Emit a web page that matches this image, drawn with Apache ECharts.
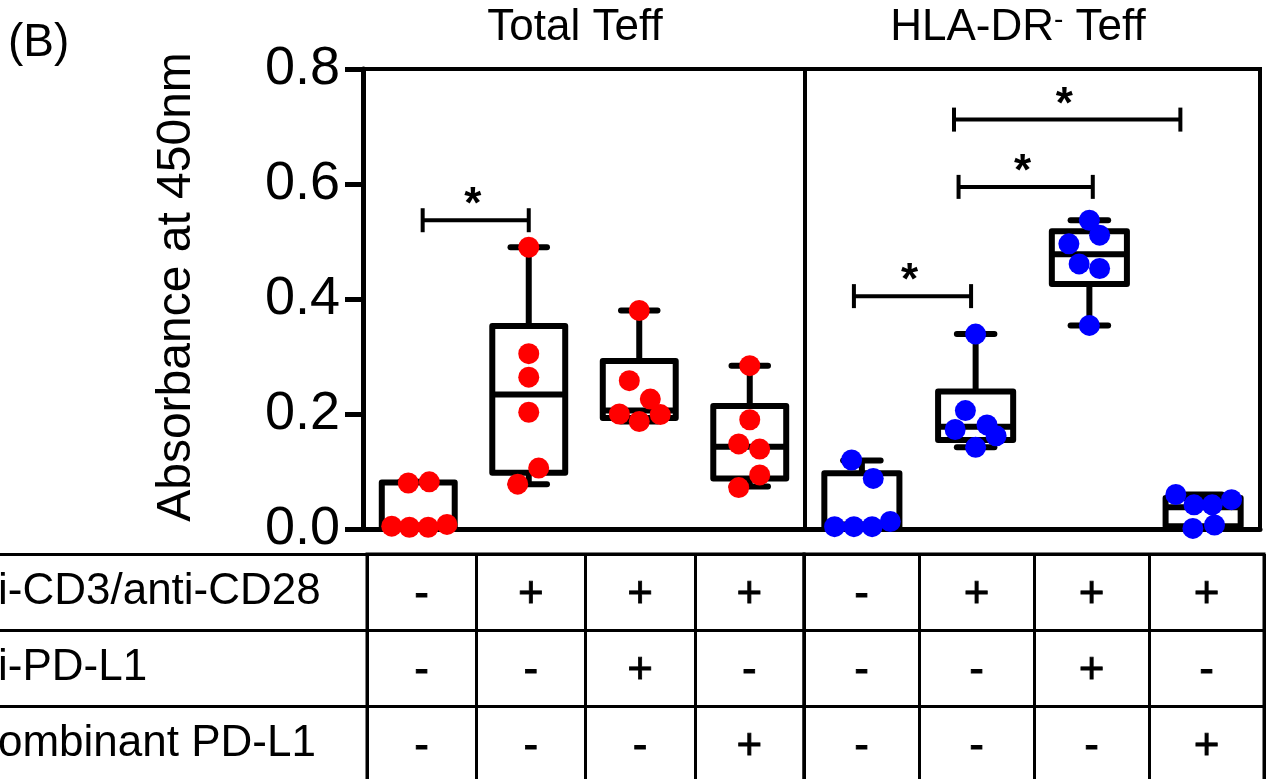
<!DOCTYPE html>
<html><head><meta charset="utf-8">
<script src="https://cdn.jsdelivr.net/npm/echarts@6/dist/echarts.min.js"></script>
<style>html,body{margin:0;padding:0;background:#fff}#c{width:1272px;height:779px}</style>
</head><body><div id="c"></div>
<script>
// ---------- data ----------
const panelTitles = ['Total Teff', 'HLA-DR{sup|-} Teff'];
const groupsTotal = ['Total: unstim', 'Total: CD3/CD28', 'Total: CD3/CD28 + anti-PD-L1', 'Total: CD3/CD28 + rPD-L1'];
const groupsHLA = ['HLA-DR-: unstim', 'HLA-DR-: CD3/CD28', 'HLA-DR-: CD3/CD28 + anti-PD-L1', 'HLA-DR-: CD3/CD28 + rPD-L1'];
const yTicks = { min: 0, max: 0.8, interval: 0.2 };
const yName = 'Absorbance at 450nm';
const panelLabel = '(B)';
// box stats: [min, Q1, median, Q3, max]
const boxTotal = [
  [0.003, 0.004, 0.006, 0.081, 0.082],
  [0.078, 0.098, 0.234, 0.353, 0.490],
  [0.187, 0.193, 0.206, 0.292, 0.380],
  [0.074, 0.088, 0.143, 0.214, 0.284]
];
const boxHLA = [
  [0.004, 0.004, 0.008, 0.097, 0.119],
  [0.142, 0.155, 0.178, 0.239, 0.339],
  [0.354, 0.426, 0.478, 0.518, 0.537],
  [0.001, 0.005, 0.038, 0.054, 0.060]
];
// individual points and their horizontal jitter (fraction of a category)
const ptsTotal = [
  [0.080, 0.082, 0.005, 0.003, 0.003, 0.008],
  [0.490, 0.305, 0.264, 0.203, 0.106, 0.078],
  [0.380, 0.258, 0.226, 0.200, 0.187, 0.199],
  [0.284, 0.190, 0.148, 0.139, 0.094, 0.072]
];
const jitTotal = [
  [-0.09, 0.10, -0.24, -0.08, 0.09, 0.26],
  [0, 0, 0, 0, 0.09, -0.10],
  [0, -0.09, 0.10, -0.18, 0, 0.19],
  [0, 0, -0.10, 0.09, 0.09, -0.10]
];
const ptsHLA = [
  [0.120, 0.088, 0.004, 0.004, 0.004, 0.013],
  [0.339, 0.206, 0.173, 0.181, 0.162, 0.142],
  [0.537, 0.511, 0.496, 0.461, 0.453, 0.354],
  [0.060, 0.042, 0.042, 0.051, 0.001, 0.007]
];
const jitHLA = [
  [-0.09, 0.10, -0.24, -0.07, 0.09, 0.25],
  [0, -0.09, -0.18, 0.10, 0.18, 0],
  [0, 0.09, -0.18, -0.09, 0.09, 0],
  [-0.24, -0.08, 0.08, 0.25, -0.09, 0.10]
];
// significance brackets: [from, to, height]
const sigTotal = [[0.04, 1.0, 0.537]];
const sigHLA = [[-0.07, 0.96, 0.405], [0.85, 2.03, 0.595], [0.81, 2.80, 0.712]];
const sigMark = '*';
// condition table
const tableRows = ['i-CD3/anti-CD28', 'i-PD-L1', 'ombinant PD-L1'];
const rowCD3 = ['-', '+', '+', '+', '-', '+', '+', '+'];
const rowAntiPDL1 = ['-', '-', '+', '-', '-', '-', '+', '-'];
const rowRecPDL1 = ['-', '-', '-', '+', '-', '-', '-', '+'];
const tableData = [rowCD3, rowAntiPDL1, rowRecPDL1];

// ---------- chart ----------
const FONT = '"Liberation Sans", Arial, Helvetica, sans-serif';
const chart = echarts.init(document.getElementById('c'));

function boxSeries(stats, xi, yi) {
  return {
    type: 'custom', xAxisIndex: xi, yAxisIndex: yi, z: 3,
    data: stats.map((b, i) => [i].concat(b)),
    encode: { x: 0, y: [1, 2, 3, 4, 5] },
    renderItem: function (params, api) {
      const i = api.value(0);
      const x = api.coord([i, 0])[0];
      const band = api.size([1, 0])[0];
      const bw = band * 0.66, cw = band * 0.33;
      const y = k => api.coord([i, api.value(k)])[1];
      const yMin = y(1), yQ1 = y(2), yMed = y(3), yQ3 = y(4), yMax = y(5);
      const st = { stroke: '#000', lineWidth: 6, fill: null, lineJoin: 'round' };
      const cap = { stroke: '#000', lineWidth: 6, lineCap: 'round' };
      return { type: 'group', children: [
        { type: 'line', shape: { x1: x, y1: yQ3, x2: x, y2: yMax }, style: st },
        { type: 'line', shape: { x1: x, y1: yQ1, x2: x, y2: yMin }, style: st },
        { type: 'line', shape: { x1: x - cw / 2, y1: yMax, x2: x + cw / 2, y2: yMax }, style: cap },
        { type: 'line', shape: { x1: x - cw / 2, y1: yMin, x2: x + cw / 2, y2: yMin }, style: cap },
        { type: 'rect', shape: { x: x - bw / 2, y: yQ3, width: bw, height: yQ1 - yQ3 }, style: st },
        { type: 'line', shape: { x1: x - bw / 2, y1: yMed, x2: x + bw / 2, y2: yMed }, style: st }
      ] };
    }
  };
}

function pointSeries(pts, jit, xi, yi, color) {
  const data = [];
  pts.forEach((g, gi) => g.forEach((v, k) => data.push([gi + jit[gi][k], v])));
  return {
    type: 'scatter', xAxisIndex: xi, yAxisIndex: yi, z: 5,
    symbolSize: 21, itemStyle: { color: color, opacity: 1 },
    data: data
  };
}

function sigSeries(sig, xi, yi) {
  return {
    type: 'custom', xAxisIndex: xi, yAxisIndex: yi, z: 4,
    data: sig,
    renderItem: function (params, api) {
      const a = api.coord([api.value(0), api.value(2)]);
      const b = api.coord([api.value(1), api.value(2)]);
      const st = { stroke: '#000', lineWidth: 4 };
      return { type: 'group', children: [
        { type: 'line', shape: { x1: a[0], y1: a[1], x2: b[0], y2: b[1] }, style: st },
        { type: 'line', shape: { x1: a[0], y1: a[1] - 12, x2: a[0], y2: a[1] + 12 }, style: st },
        { type: 'line', shape: { x1: b[0], y1: b[1] - 12, x2: b[0], y2: b[1] + 12 }, style: st },
        { type: 'text', x: (a[0] + b[0]) / 2 - 3, y: a[1] - 14,
          style: { text: sigMark, fontSize: 44, fontWeight: 'bold', fontFamily: FONT, fill: '#000', align: 'center', verticalAlign: 'middle' } }
      ] };
    }
  };
}

function tableSeries(xi, yi, offset) {
  const data = [];
  for (let r = 0; r < tableData.length; r++) for (let c = 0; c < 4; c++) data.push([c, r]);
  return {
    type: 'custom', xAxisIndex: xi, yAxisIndex: yi, z: 3,
    data: data,
    renderItem: function (params, api) {
      const c = api.value(0), r = api.value(1);
      const p = api.coord([c, r]);
      return { type: 'text', x: p[0], y: p[1] + 3,
        style: { text: tableData[r][c + offset], fontSize: 44, fontFamily: FONT, fill: '#000', align: 'center', verticalAlign: 'middle',
          stroke: '#000', lineWidth: 0.8 } };
    }
  };
}

const hiddenCat = (grid, cats) => ({
  type: 'category', gridIndex: grid, data: cats,
  axisLine: { show: true, onZero: false, lineStyle: { color: '#000', width: 5 } },
  axisTick: { show: false }, axisLabel: { show: false }, splitLine: { show: false }
});
const hiddenVal = grid => ({ type: 'value', gridIndex: grid, min: -0.5, max: 3.5, show: false,
  axisLine: { onZero: false } });
const tableX = (grid, cats) => ({
  type: 'category', gridIndex: grid, data: cats,
  axisLine: { show: false }, axisTick: { show: false }, axisLabel: { show: false, interval: 0 },
  splitLine: { show: true, interval: 0, lineStyle: { color: '#000', width: 3 } }
});
const gridBase = { show: true, borderColor: '#000', backgroundColor: 'transparent', containLabel: false, outerBoundsMode: 'none' };

const option = {
  backgroundColor: '#fff',
  animation: false,
  textStyle: { fontFamily: FONT },
  grid: [
    Object.assign({ left: 363, top: 69, width: 442, height: 460, borderWidth: 4 }, gridBase),
    Object.assign({ left: 805, top: 69, width: 455, height: 460, borderWidth: 4 }, gridBase),
    Object.assign({ left: 367, top: 554, width: 437, height: 228, borderWidth: 3 }, gridBase),
    Object.assign({ left: 804, top: 554, width: 460, height: 228, borderWidth: 3 }, gridBase)
  ],
  xAxis: [
    hiddenCat(0, groupsTotal),
    hiddenCat(1, groupsHLA),
    hiddenVal(0),
    hiddenVal(1),
    tableX(2, groupsTotal),
    tableX(3, groupsHLA)
  ],
  yAxis: [
    { type: 'value', gridIndex: 0, min: yTicks.min, max: yTicks.max, interval: yTicks.interval,
      axisLine: { show: true, onZero: false, lineStyle: { color: '#000', width: 5 } },
      axisTick: { show: true, inside: false, length: 18, lineStyle: { color: '#000', width: 5 } },
      axisLabel: { show: true, margin: 23, fontSize: 54, color: '#000', fontFamily: FONT, formatter: v => v.toFixed(1) },
      splitLine: { show: false } },
    { type: 'value', gridIndex: 1, min: yTicks.min, max: yTicks.max, interval: yTicks.interval, show: false,
      axisLine: { onZero: false } },
    { type: 'category', gridIndex: 2, data: tableRows, inverse: true,
      axisLine: { show: false, onZero: false },
      axisTick: { show: true, inside: false, length: 367, interval: 0, lineStyle: { color: '#000', width: 3 } },
      axisLabel: { show: true, interval: 0, align: 'left', margin: 369, fontSize: 44, color: '#000', fontFamily: FONT },
      splitLine: { show: true, interval: 0, lineStyle: { color: '#000', width: 3 } } },
    { type: 'category', gridIndex: 3, data: tableRows, inverse: true,
      axisLine: { show: false, onZero: false }, axisTick: { show: false }, axisLabel: { show: false, interval: 0 },
      splitLine: { show: true, interval: 0, lineStyle: { color: '#000', width: 3 } } }
  ],
  graphic: [
    { type: 'text', left: 8, top: 20, style: { text: panelLabel, fontSize: 46, fontFamily: FONT, fill: '#000' } },
    { type: 'text', x: 575, y: 28, style: { text: panelTitles[0], fontSize: 44, fontFamily: FONT, fill: '#000', align: 'center', verticalAlign: 'middle' } },
    { type: 'text', x: 1018, y: 28, style: { text: panelTitles[1], fontSize: 44, fontFamily: FONT, fill: '#000', align: 'center', verticalAlign: 'middle',
        rich: { sup: { fontSize: 28, fontFamily: FONT, fill: '#000', verticalAlign: 'top', padding: [0, 0, 14, 0] } } } },
    { type: 'text', x: 177, y: 287, rotation: Math.PI / 2, style: { text: yName, fontSize: 48, fontFamily: FONT, fill: '#000', align: 'center', verticalAlign: 'middle' } }
  ],
  series: [
    boxSeries(boxTotal, 0, 0),
    boxSeries(boxHLA, 1, 1),
    pointSeries(ptsTotal, jitTotal, 2, 0, '#ff0000'),
    pointSeries(ptsHLA, jitHLA, 3, 1, '#0000ff'),
    sigSeries(sigTotal, 2, 0),
    sigSeries(sigHLA, 3, 1),
    tableSeries(4, 2, 0),
    tableSeries(5, 3, 4)
  ]
};
chart.setOption(option);
</script>
</body></html>
